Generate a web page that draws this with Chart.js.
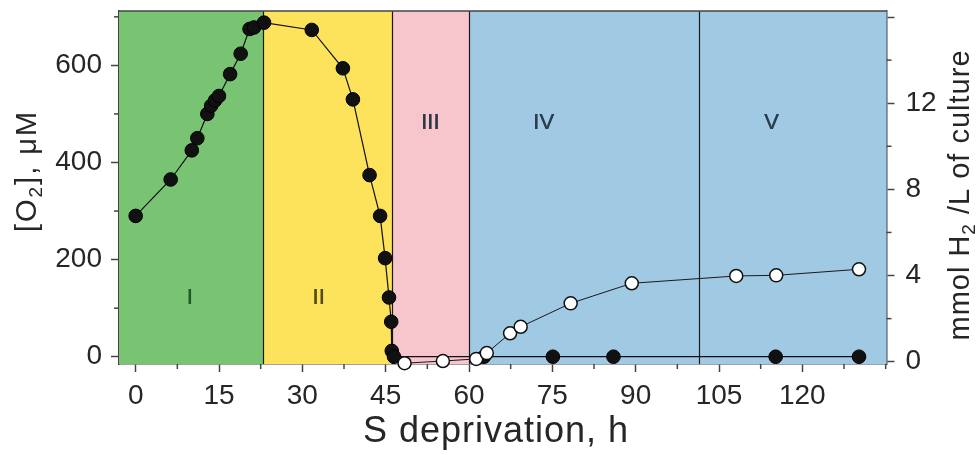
<!DOCTYPE html>
<html>
<head>
<meta charset="utf-8">
<script src="https://cdn.jsdelivr.net/npm/chart.js@4/dist/chart.umd.min.js"></script>
<style>
html,body{margin:0;padding:0;background:#fff;}
#wrap{width:978px;height:455px;}
</style>
</head>
<body>
<div id="wrap"><canvas id="c" width="978" height="455"></canvas></div>
<script>
// ---- data ----
const o2Hours = [0, 6.3, 10.1, 11.1, 12.9, 13.6, 14.3, 15.0, 17.0, 18.9, 20.5, 21.3, 23.1, 31.7, 37.3, 39.1, 42.1, 44.0, 44.9, 45.6, 46.0, 46.1, 46.5, 62.7, 75.1, 86.0, 115.2, 130.2];
const o2Values = [290, 365, 425, 450, 500, 517, 528, 537, 582, 624, 675, 678, 688, 673, 594, 530, 374, 290, 203, 122, 72, 12, 0, 0, 0, 0, 0, 0];
const h2Hours = [48.4, 55.3, 61.3, 63.2, 67.4, 69.3, 78.3, 89.3, 108.1, 115.3, 130.2];
const h2Values = [-0.07, 0.03, 0.13, 0.4, 1.32, 1.62, 2.71, 3.64, 3.98, 4.01, 4.29];

const xMajorTicks = [0, 15, 30, 45, 60, 75, 90, 105, 120];
const xMinorTicks = [7.5, 22.5, 37.5, 52.5, 67.5, 82.5, 97.5, 112.5, 127.5, 135];
const yLeftMajorTicks = [0, 200, 400, 600];
const yLeftMinorTicks = [100, 300, 500, 700];
const yRightMajorTicks = [0, 4, 8, 12, 16];
const yRightHiddenLabels = [16];
const yRightMinorTicks = [2, 6, 10, 14];

const regionEdges = [23, 46.2, 60, 101.4];          // phase boundaries, h
const regionNames = ['I', 'II', 'III', 'IV', 'V'];
const regionLabelHours = [9.7, 32.9, 53, 73.4, 114.4];
const regionLabelO2 = [121, 121, 481, 481, 481];

const xTitle = 'S deprivation, h';
const yLeftTitle = [['[O', 0], ['2', 1], ['], \u03bcM', 0]];
const yRightTitle = [['mmol H', 0], ['2', 1], [' /L of culture', 0]];

// ---- styles ----
const FONT = '"Liberation Sans", Arial, Helvetica, sans-serif';
const regionColors = ['#79c472', '#fde35b', '#f7c5cc', '#a0c9e4', '#a0c9e4'];
const regionTextColors = ['#1f5a25', '#564b1a', '#2b3946', '#2b3d4e', '#2b3d4e'];
const AXIS = '#444';
const TEXT = '#262626';

Chart.defaults.font.family = FONT;

function drawRich(ctx, segs, x, y, rot, size, spacing) {
  ctx.save();
  ctx.translate(x, y);
  ctx.rotate(rot);
  try { ctx.letterSpacing = spacing + 'px'; } catch (e) {}
  ctx.fillStyle = TEXT;
  ctx.textBaseline = 'alphabetic';
  ctx.textAlign = 'left';
  let total = 0;
  const parts = segs.map(([t, sub]) => {
    const s = sub ? Math.round(size * 0.65) : size;
    ctx.font = s + 'px ' + FONT;
    const w = ctx.measureText(t).width;
    total += w;
    return {t, s, w, dy: sub ? size * 0.22 : 0};
  });
  let cx = -total / 2;
  parts.forEach(p => {
    ctx.font = p.s + 'px ' + FONT;
    ctx.fillText(p.t, cx, p.dy);
    cx += p.w;
  });
  ctx.restore();
}

const decor = {
  id: 'decor',
  beforeDatasetsDraw(chart) {
    const {ctx, chartArea: a, scales: {x, y}} = chart;
    ctx.save();
    // region backgrounds
    const edges = [a.left].concat(regionEdges.map(v => x.getPixelForValue(v)), [a.right]);
    for (let i = 0; i < regionColors.length; i++) {
      ctx.fillStyle = regionColors[i];
      ctx.fillRect(edges[i], a.top, edges[i + 1] - edges[i], a.bottom - a.top);
    }
    // boundary lines
    ctx.strokeStyle = '#1a1a1a';
    ctx.lineWidth = 1.2;
    regionEdges.forEach(v => {
      const px = Math.round(x.getPixelForValue(v)) + 0.5;
      ctx.beginPath(); ctx.moveTo(px, a.top); ctx.lineTo(px, a.bottom); ctx.stroke();
    });
    // region labels
    ctx.font = '22px ' + FONT;
    ctx.textAlign = 'center';
    ctx.textBaseline = 'middle';
    regionNames.forEach((n, i) => {
      ctx.fillStyle = regionTextColors[i];
      const px = x.getPixelForValue(regionLabelHours[i]);
      const py = y.getPixelForValue(regionLabelO2[i]);
      ctx.fillText(n, px, py);
      ctx.fillText(n, px + 0.5, py);
    });
    // top frame line
    ctx.strokeStyle = AXIS;
    ctx.lineWidth = 1.5;
    ctx.beginPath(); ctx.moveTo(a.left, a.top); ctx.lineTo(a.right, a.top); ctx.stroke();
    ctx.restore();
  },
  afterDraw(chart) {
    const {ctx, chartArea: a, scales: {x, y, y2}} = chart;
    ctx.save();
    ctx.strokeStyle = AXIS;
    ctx.lineWidth = 1.5;
    const L = 5;
    xMinorTicks.forEach(v => {
      const p = x.getPixelForValue(v);
      ctx.beginPath(); ctx.moveTo(p, a.bottom); ctx.lineTo(p, a.bottom + L); ctx.stroke();
    });
    yLeftMinorTicks.forEach(v => {
      const p = y.getPixelForValue(v);
      ctx.beginPath(); ctx.moveTo(a.left - L, p); ctx.lineTo(a.left, p); ctx.stroke();
    });
    yRightMinorTicks.forEach(v => {
      const p = y2.getPixelForValue(v);
      ctx.beginPath(); ctx.moveTo(a.right, p); ctx.lineTo(a.right + L, p); ctx.stroke();
    });
    ctx.restore();
    // axis titles
    drawRich(ctx, [[xTitle, 0]], 496, 442, 0, 36, 1);
    drawRich(ctx, yLeftTitle, 36, 171, -Math.PI / 2, 29, 2);
    drawRich(ctx, yRightTitle, 969, 195, -Math.PI / 2, 29, 1);
  }
};

function zeroPad(s) { s.paddingTop = 0; s.paddingBottom = 0; s.paddingLeft = 0; s.paddingRight = 0; }

const tickFont = {size: 28, family: FONT};

new Chart(document.getElementById('c'), {
  type: 'scatter',
  data: {
    datasets: [
      {
        label: 'H2',
        data: h2Hours.map((h, i) => ({x: h, y: h2Values[i]})),
        yAxisID: 'y2',
        showLine: true,
        borderColor: '#1a1a1a',
        borderWidth: 1,
        pointRadius: 6.5,
        pointBackgroundColor: '#ffffff',
        pointBorderColor: '#111',
        pointBorderWidth: 1.5,
        clip: false
      },
      {
        label: 'O2',
        data: o2Hours.map((h, i) => ({x: h, y: o2Values[i]})),
        yAxisID: 'y',
        showLine: true,
        borderColor: '#111',
        borderWidth: 1.2,
        pointRadius: 6.8,
        pointBackgroundColor: '#111',
        pointBorderColor: '#000',
        pointBorderWidth: 1,
        clip: false
      }
    ]
  },
  options: {
    responsive: false,
    animation: false,
    devicePixelRatio: 1,
    layout: {padding: {top: 11, left: 0, right: 0, bottom: 0}},
    plugins: {legend: {display: false}, tooltip: {enabled: false}},
    scales: {
      x: {
        type: 'linear', position: 'bottom', min: -3, max: 135.15,
        afterBuildTicks: s => { s.ticks = xMajorTicks.map(v => ({value: v})); },
        afterFit: s => { s.height = 91; zeroPad(s); },
        ticks: {font: tickFont, color: TEXT, padding: 7, maxRotation: 0, autoSkip: false},
        grid: {display: true, drawOnChartArea: false, drawTicks: true, tickLength: 8, tickColor: AXIS, tickWidth: 1.5},
        border: {display: true, color: AXIS, width: 1.5}
      },
      y: {
        type: 'linear', position: 'left', min: -15, max: 712,
        afterBuildTicks: s => { s.ticks = yLeftMajorTicks.map(v => ({value: v})); },
        afterFit: s => { s.width = 119; zeroPad(s); },
        ticks: {font: tickFont, color: TEXT, padding: 9},
        grid: {display: true, drawOnChartArea: false, drawTicks: true, tickLength: 8, tickColor: AXIS, tickWidth: 1.5},
        border: {display: true, color: AXIS, width: 1.5}
      },
      y2: {
        type: 'linear', position: 'right', min: -0.107, max: 16.28,
        afterBuildTicks: s => { s.ticks = yRightMajorTicks.map(v => ({value: v})); },
        afterFit: s => { s.width = 91.5; zeroPad(s); },
        ticks: {font: tickFont, color: TEXT, padding: 11,
          callback: v => yRightHiddenLabels.includes(v) ? '' : String(v)},
        grid: {display: true, drawOnChartArea: false, drawTicks: true, tickLength: 8, tickColor: AXIS, tickWidth: 1.5},
        border: {display: true, color: AXIS, width: 1.5}
      }
    }
  },
  plugins: [decor]
});
</script>
</body>
</html>
